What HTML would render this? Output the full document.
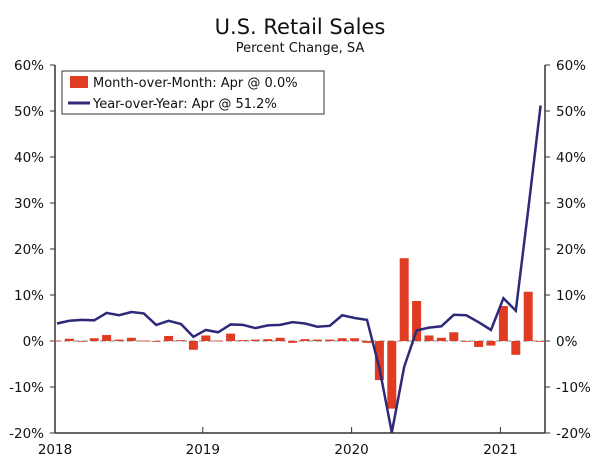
<!DOCTYPE html>
<html><head><meta charset="utf-8"><style>
body{margin:0;background:#fff;font-family:"DejaVu Sans","Liberation Sans",sans-serif}
svg text{font-family:"DejaVu Sans","Liberation Sans",sans-serif}
</style></head><body>
<svg id="c" width="600" height="460" xmlns="http://www.w3.org/2000/svg">
<text x="300" y="34" text-anchor="middle" font-size="21" fill="#111">U.S. Retail Sales</text>
<text x="300" y="52" text-anchor="middle" font-size="13" fill="#111">Percent Change, SA</text>
<g id="g"></g>
</svg>
<script>
const yoy=[3.8,4.4,4.6,4.5,6.1,5.6,6.3,6.0,3.5,4.4,3.7,0.9,
2.4,1.9,3.6,3.5,2.8,3.4,3.5,4.1,3.8,3.1,3.3,5.6,
5.0,4.6,-5.9,-19.9,-5.6,2.3,2.9,3.2,5.7,5.6,4.1,2.4,
9.3,6.6,28.5,51.2];
const mom=[0.1,0.5,0.0,0.6,1.3,0.3,0.7,0.1,0.0,1.1,0.2,-1.9,
1.2,0.1,1.6,0.2,0.3,0.4,0.7,-0.4,0.4,0.3,0.3,0.6,
0.6,-0.4,-8.5,-14.7,18.0,8.7,1.2,0.7,1.9,0.0,-1.3,-1.0,
7.6,-3.0,10.7,0.0];
const yTicks=[-20,-10,0,10,20,30,40,50,60];
const xYears=["2018","2019","2020","2021"];
const g=document.getElementById('g');const NS='http://www.w3.org/2000/svg';
const L=55,R=545,T=65,B=433;
const y=v=>B-(v+20)/80*(B-T);
const x=i=>57+i*12.4;
function mk(t,a,p){const e=document.createElementNS(NS,t);for(const k in a)e.setAttribute(k,a[k]);(p||g).appendChild(e);return e;}
let e=mk('line',{x1:L,y1:T,x2:L,y2:B,stroke:'#333','stroke-width':1.5});

e=mk('line',{x1:R,y1:T,x2:R,y2:B,stroke:'#333','stroke-width':1.5});

e=mk('line',{x1:L,y1:B,x2:R,y2:B,stroke:'#333','stroke-width':1.5});

e=mk('line',{x1:L,y1:y(0),x2:R,y2:y(0),stroke:'#888','stroke-width':1,'stroke-dasharray':'6,3'});

yTicks.forEach(v=>{
 mk('line',{x1:L-5,y1:y(v),x2:L,y2:y(v),stroke:'#333'});
 mk('line',{x1:R,y1:y(v),x2:R+5,y2:y(v),stroke:'#333'});
 let t=mk('text',{x:L-11,y:y(v)+5,'text-anchor':'end','font-size':13.5,fill:'#111'});t.textContent=v+'%';
 
 t=mk('text',{x:R+11,y:y(v)+5,'text-anchor':'start','font-size':13.5,fill:'#111'});t.textContent=v+'%';
 
});
xYears.forEach((s,k)=>{const px=k==0?L:x(k*12)-3;
 mk('line',{x1:px,y1:B-6,x2:px,y2:B,stroke:'#333'});
 const t=mk('text',{x:px,y:B+21,'text-anchor':'middle','font-size':13.5,fill:'#111'});t.textContent=s;
 
});
mom.forEach((v,i)=>{const r=mk('rect',{x:x(i)-4.5,y:Math.min(y(v),y(0)),width:9,height:Math.max(Math.abs(y(v)-y(0)),0.8),fill:'#e03c24'});
 });
const p=mk('polyline',{points:yoy.map((v,i)=>x(i)+','+y(v)).join(' '),fill:'none',stroke:'#2e2a78','stroke-width':2.5});

const lg=mk('g',{});
mk('rect',{x:62,y:71,width:262,height:43,fill:'#fff',stroke:'#333'},lg);
mk('rect',{x:70,y:76,width:18,height:12,fill:'#e03c24'},lg);
let t=mk('text',{x:93,y:87,'font-size':13,fill:'#111'},lg);t.textContent='Month-over-Month: Apr @ 0.0%';

mk('line',{x1:68,y1:103,x2:90,y2:103,stroke:'#2e2a78','stroke-width':3},lg);
t=mk('text',{x:93,y:108,'font-size':13,fill:'#111'},lg);t.textContent='Year-over-Year: Apr @ 51.2%';

</script>
</body></html>
